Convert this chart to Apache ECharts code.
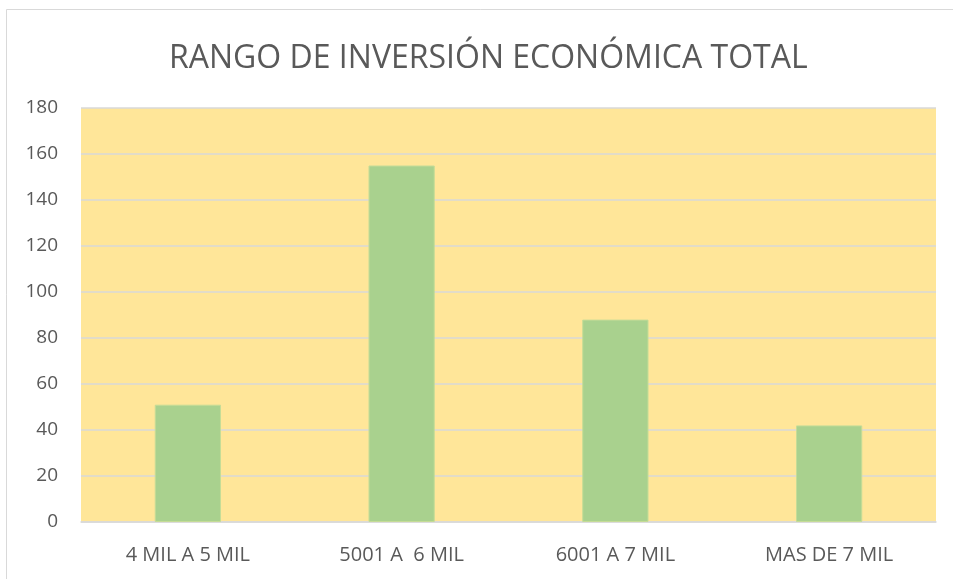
<!DOCTYPE html>
<html>
<head>
<meta charset="utf-8">
<script src="https://cdn.jsdelivr.net/npm/echarts@6/dist/echarts.min.js"></script>
<style>
  html, body { margin: 0; padding: 0; background: #fff; }
  #main { width: 953px; height: 579px; }
</style>
</head>
<body>
<div id="main"></div>
<script>
var categories = ['4 MIL A 5 MIL', '5001 A  6 MIL', '6001 A 7 MIL', 'MAS DE 7 MIL']
var values = [51, 155, 88, 42]
var yTicks = { min: 0, max: 180, interval: 20 }

var myChart = echarts.init(document.getElementById('main'))
var font = 'Open Sans'

var option = {
  backgroundColor: '#fff',
  title: {
    text: 'RANGO DE INVERSIÓN ECONÓMICA TOTAL',
    left: 164,
    top: 38,
    textStyle: { fontFamily: font, fontSize: 32, fontWeight: 'normal', color: '#595959' }
  },
  graphic: [{
    type: 'rect',
    shape: { x: 6.5, y: 9.5, width: 960, height: 600 },
    style: { fill: 'none', stroke: '#d9d9d9', lineWidth: 1 },
    silent: true
  }],
  grid: {
    left: 81, right: 17, top: 108, bottom: 57,
    show: true, backgroundColor: '#FFE699', borderWidth: 0
  },
  xAxis: {
    type: 'category',
    data: categories,
    axisLine: { lineStyle: { color: '#d9d9d9', width: 1.5 } },
    axisTick: { show: false },
    axisLabel: { fontFamily: font, fontSize: 20, color: '#595959', margin: 23 }
  },
  yAxis: {
    type: 'value',
    min: yTicks.min, max: yTicks.max, interval: yTicks.interval,
    axisLine: { show: false },
    axisTick: { show: false },
    splitLine: { lineStyle: { color: '#d9d9d9', width: 1.5 } },
    axisLabel: { fontFamily: font, fontSize: 19, color: '#595959', margin: 23 }
  },
  series: [{
    type: 'bar',
    data: values,
    barWidth: '31%',
    itemStyle: { color: '#A9D18E', borderColor: '#C5DC97', borderWidth: 1 }
  }]
}

myChart.setOption(option)
</script>
</body>
</html>
